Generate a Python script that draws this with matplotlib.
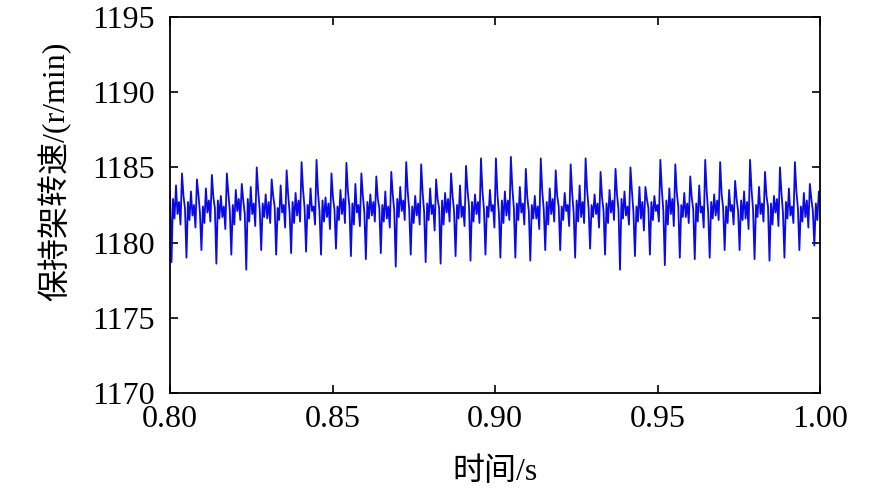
import numpy as np
import matplotlib
matplotlib.use('Agg')
import matplotlib.pyplot as plt

# sampling of the cage speed signal
t_start = 0.8
dt = 0.00046

# cage speed (r/min), one line per revolution pulse (min, ..., peak, ...)
speed = [
    1183.4, 1178.7, 1182.9, 1181.6, 1183.8, 1181.9, 1182.7, 1181.2, 1184.6, 1183.1, 1182.3,
    1179.0, 1182.7, 1181.5, 1183.4, 1181.8, 1182.5, 1181.0, 1184.2, 1183.2, 1182.0,
    1179.5, 1182.4, 1181.3, 1183.6, 1182.0, 1182.8, 1181.4, 1184.5, 1183.0, 1182.3,
    1178.6, 1182.8, 1181.6, 1183.1, 1181.7, 1182.4, 1180.9, 1184.6, 1183.3, 1182.1,
    1179.2, 1182.5, 1181.2, 1183.5, 1182.1, 1182.9, 1181.5, 1183.9, 1182.8, 1181.9,
    1178.2, 1182.9, 1181.4, 1183.7, 1181.9, 1182.6, 1181.1, 1185.0, 1183.4, 1182.2,
    1179.5, 1182.6, 1181.7, 1183.2, 1181.6, 1182.7, 1181.3, 1184.2, 1183.1, 1182.4,
    1179.2, 1182.3, 1181.5, 1183.8, 1182.0, 1182.5, 1181.0, 1184.8, 1183.2, 1182.0,
    1179.3, 1182.7, 1181.3, 1183.3, 1181.8, 1182.8, 1181.4, 1185.35, 1183.5, 1182.3,
    1179.4, 1182.5, 1181.6, 1183.6, 1182.1, 1182.4, 1181.2, 1185.5, 1183.3, 1182.1,
    1179.2, 1182.8, 1181.4, 1183.0, 1181.7, 1182.6, 1180.9, 1184.6, 1183.0, 1182.2,
    1179.6, 1182.4, 1181.5, 1183.5, 1181.9, 1182.9, 1181.3, 1185.3, 1183.4, 1182.4,
    1179.1, 1182.6, 1181.2, 1183.9, 1182.0, 1182.5, 1181.1, 1184.6, 1183.1, 1182.0,
    1178.9, 1182.7, 1181.6, 1183.2, 1181.8, 1182.7, 1181.4, 1184.4, 1182.9, 1182.3,
    1179.3, 1182.5, 1181.4, 1183.4, 1181.6, 1182.4, 1181.0, 1184.7, 1183.2, 1182.1,
    1178.4, 1182.9, 1181.7, 1183.7, 1182.1, 1182.8, 1181.5, 1185.35, 1183.4, 1182.2,
    1179.2, 1182.4, 1181.3, 1183.1, 1181.8, 1182.6, 1181.2, 1185.2, 1183.3, 1182.0,
    1178.7, 1182.6, 1181.5, 1183.6, 1181.9, 1182.5, 1180.8, 1184.2, 1182.9, 1182.3,
    1178.6, 1182.8, 1181.2, 1183.3, 1182.0, 1182.9, 1181.4, 1184.6, 1183.1, 1182.1,
    1179.1, 1182.5, 1181.6, 1183.8, 1181.7, 1182.4, 1181.1, 1185.1, 1183.5, 1182.4,
    1178.8, 1182.7, 1181.4, 1183.2, 1181.9, 1182.7, 1181.3, 1185.6, 1183.4, 1182.2,
    1179.2, 1182.4, 1181.7, 1183.5, 1182.1, 1182.5, 1181.0, 1185.6, 1183.2, 1182.0,
    1179.0, 1182.8, 1181.3, 1183.4, 1181.8, 1182.8, 1181.5, 1185.7, 1183.6, 1182.3,
    1179.0, 1182.6, 1181.5, 1183.7, 1182.0, 1182.6, 1181.2, 1184.9, 1183.0, 1182.1,
    1178.8, 1182.5, 1181.6, 1183.1, 1181.6, 1182.4, 1180.9, 1185.6, 1183.4, 1182.2,
    1179.5, 1182.7, 1181.2, 1183.6, 1181.9, 1182.9, 1181.4, 1184.8, 1183.1, 1182.4,
    1179.5, 1182.4, 1181.5, 1183.3, 1182.1, 1182.5, 1181.1, 1185.2, 1183.3, 1182.0,
    1179.0, 1182.8, 1181.4, 1183.8, 1181.7, 1182.7, 1181.3, 1185.6, 1183.5, 1182.3,
    1179.6, 1182.5, 1181.7, 1183.2, 1181.9, 1182.6, 1181.0, 1184.7, 1183.0, 1182.1,
    1179.2, 1182.6, 1181.3, 1183.5, 1182.0, 1182.8, 1181.5, 1184.9, 1183.2, 1182.2,
    1178.2, 1182.9, 1181.6, 1183.4, 1181.8, 1182.4, 1181.2, 1185.0, 1183.4, 1182.0,
    1179.1, 1182.4, 1181.4, 1183.7, 1181.6, 1182.7, 1180.8, 1183.7, 1182.9, 1182.3,
    1179.2, 1182.7, 1181.5, 1183.1, 1182.1, 1182.5, 1181.4, 1185.5, 1183.5, 1182.1,
    1178.5, 1182.8, 1181.2, 1183.6, 1181.9, 1182.9, 1181.1, 1185.2, 1183.3, 1182.4,
    1179.0, 1182.5, 1181.7, 1183.3, 1181.7, 1182.6, 1181.3, 1184.4, 1183.0, 1182.2,
    1178.9, 1182.6, 1181.4, 1183.8, 1182.0, 1182.4, 1181.0, 1185.5, 1183.4, 1182.0,
    1179.0, 1182.7, 1181.6, 1183.2, 1181.8, 1182.8, 1181.5, 1185.35, 1183.2, 1182.3,
    1179.5, 1182.4, 1181.3, 1183.5, 1182.1, 1182.5, 1181.2, 1184.1, 1182.9, 1182.1,
    1179.5, 1182.8, 1181.5, 1183.4, 1181.6, 1182.7, 1180.9, 1185.5, 1183.5, 1182.2,
    1178.9, 1182.5, 1181.7, 1183.7, 1181.9, 1182.6, 1181.4, 1184.7, 1183.1, 1182.4,
    1178.8, 1182.6, 1181.2, 1183.1, 1182.0, 1182.9, 1181.1, 1185.0, 1183.3, 1182.0,
    1179.0, 1182.7, 1181.6, 1183.6, 1181.8, 1182.4, 1181.3, 1185.35, 1183.4, 1182.3,
    1179.5, 1182.4, 1181.4, 1183.3, 1181.7, 1182.8, 1181.0, 1183.9, 1182.9, 1182.1,
    1179.8, 1182.6, 1181.5, 1183.4, 1182.6,
]
time = t_start + dt * np.arange(len(speed))

x_ticks = [0.80, 0.85, 0.90, 0.95, 1.00]
y_ticks = [1170, 1175, 1180, 1185, 1190, 1195]

serif = ['Liberation Serif', 'Noto Sans CJK SC']
plt.rcParams['font.family'] = serif

fig = plt.figure(figsize=(8.86, 4.94), dpi=100)
ax = fig.add_axes([0.1919, 0.2045, 0.7336, 0.7611])

ax.plot(time, speed, color='#0a0ae6', linewidth=1.3)

ax.set_xlim(0.8, 1.0)
ax.set_ylim(1170, 1195)
ax.set_xticks(x_ticks)
ax.set_xticklabels(['%.2f' % v for v in x_ticks])
ax.set_yticks(y_ticks)
ax.tick_params(direction='in', length=6, width=1.2, labelsize=23,
               top=True, right=True)
ax.tick_params(axis='x', pad=9)
ax.tick_params(axis='y', pad=11)
for s in ax.spines.values():
    s.set_linewidth(1.3)

ax.set_xlabel('时间/s', fontsize=23, family=serif)
ax.xaxis.set_label_coords(0.5, -0.172)
ax.set_ylabel('保持架转速/(r/min)', fontsize=23, family=serif)
ax.yaxis.set_label_coords(-0.152, 0.59)

fig.savefig('out.png', dpi=100)
